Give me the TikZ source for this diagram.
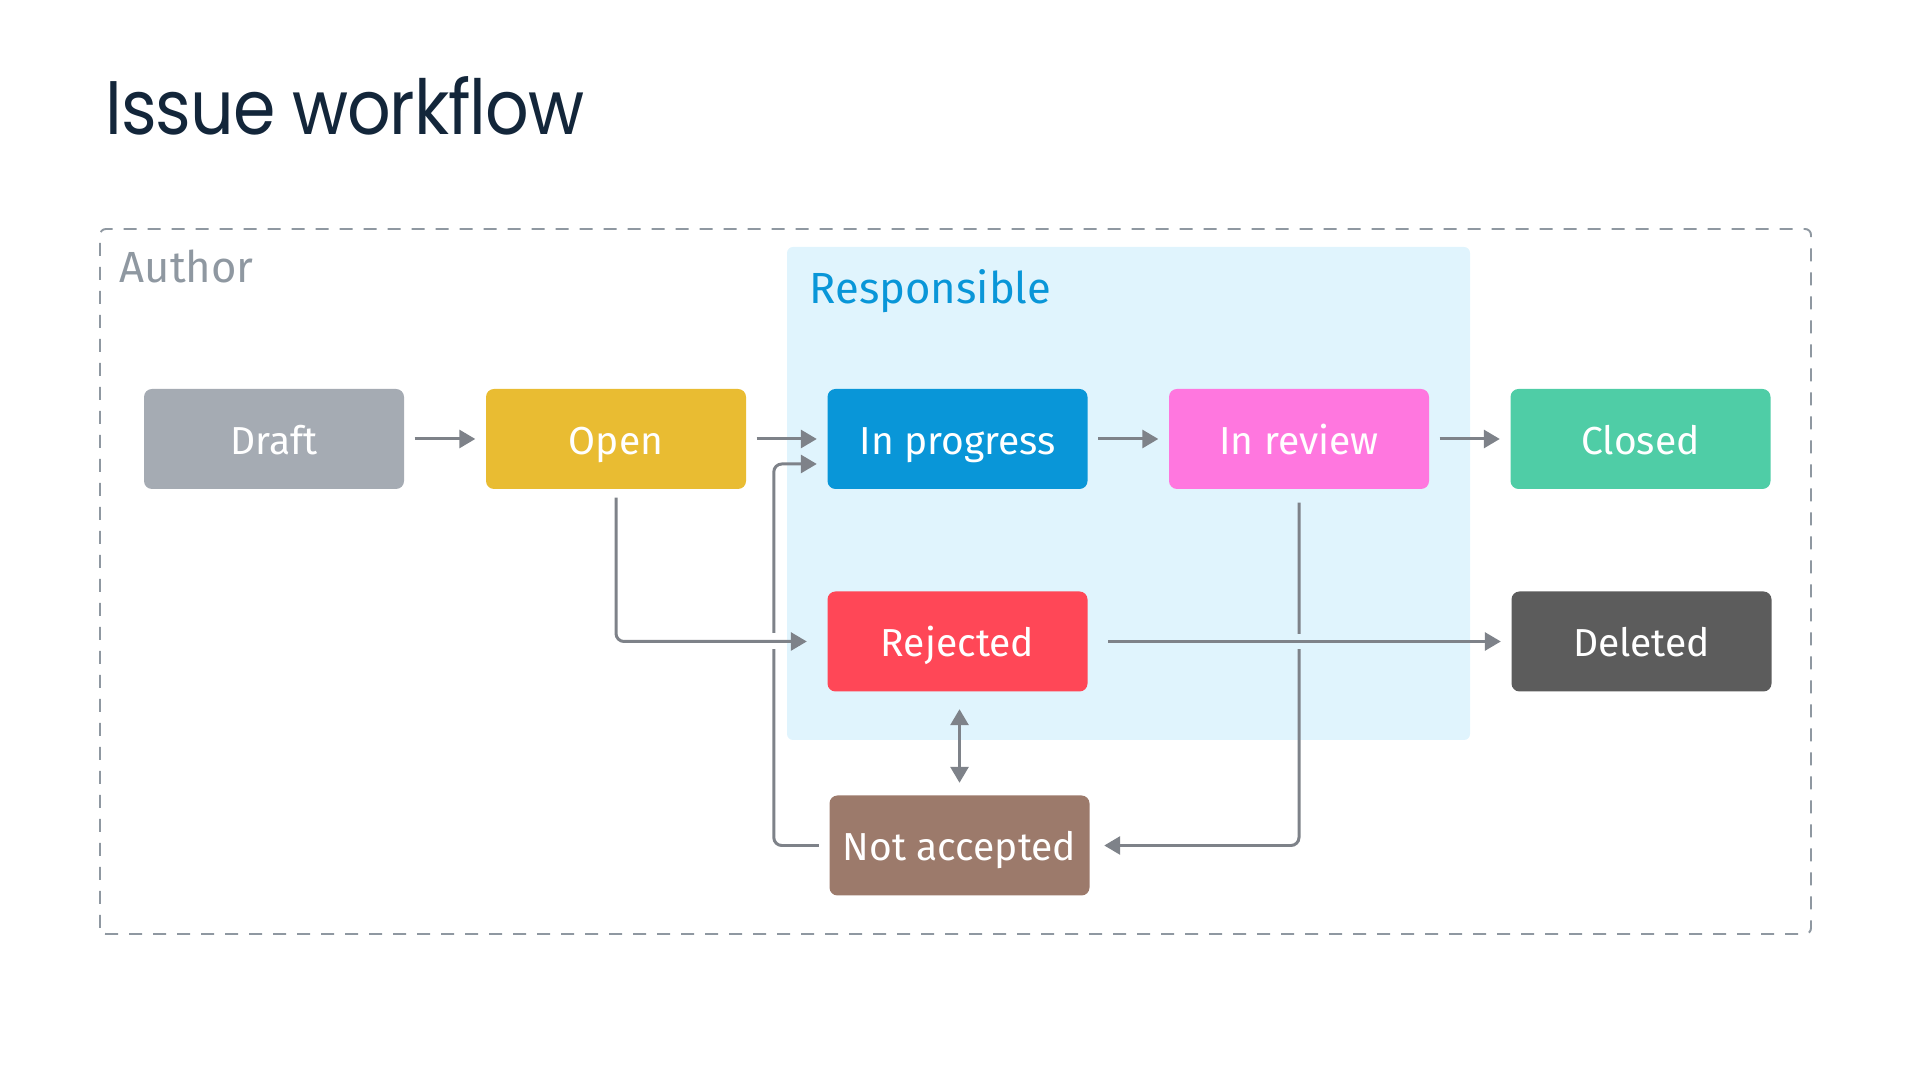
\documentclass[tikz,border=0pt]{standalone}
\usepackage{fontspec}
\setmainfont{Fira Sans}
\newfontfamily\titlefont[FakeStretch=0.9,LetterSpace=-1.5]{Poppins}
\usetikzlibrary{positioning,arrows.meta,calc}
\definecolor{titlenavy}{HTML}{13263A}
\definecolor{framegray}{HTML}{8F98A1}
\definecolor{arrowgray}{HTML}{7E8289}
\definecolor{respbg}{HTML}{E0F4FD}
\definecolor{draftgray}{HTML}{A5ABB3}
\definecolor{openyellow}{HTML}{E9BC32}
\definecolor{progblue}{HTML}{0996D8}
\definecolor{reviewpink}{HTML}{FF77DF}
\definecolor{closedgreen}{HTML}{4FCDA6}
\definecolor{rejred}{HTML}{FF4757}
\definecolor{delgray}{HTML}{5C5C5C}
\definecolor{notbrown}{HTML}{9C7A6B}

\begin{document}
\begin{tikzpicture}[
  every node/.style={font=\fontsize{11.1}{13}\selectfont},
  state/.style={rounded corners=0.8mm,minimum width=2.6cm,minimum height=1cm,inner sep=0pt,
    text height=3.5mm,text depth=0.4mm,text=white},
  lane/.style={anchor=base west,inner sep=0pt,font=\fontsize{12.4}{15}\selectfont},
  flow/.style={draw=arrowgray,line width=0.85pt,rounded corners=0.8mm,shorten <=1mm,shorten >=1mm,
    -{Triangle[length=1.6mm,width=1.8mm]}},
  both/.style={flow,{Triangle[length=1.6mm,width=1.8mm]}-{Triangle[length=1.6mm,width=1.8mm]}},
  >=Stealth ]
  \useasboundingbox (0,0) rectangle (19.2,10.8);

  \node[anchor=base west,inner sep=0pt,text=titlenavy,font=\titlefont\fontsize{21.6}{26}\selectfont] (title) at (1.05,9.45) {Issue workflow};

  \draw[framegray,line width=0.55pt,dash pattern=on 1.3mm off 1.1mm,rounded corners=0.6mm] (1.0,1.46) rectangle (18.11,8.51);
  \fill[respbg,rounded corners=0.6mm] (7.87,3.40) rectangle (14.70,8.33);
  \node[lane,text=framegray] (author) at (1.19,7.97) {Author};
  \node[lane,text=progblue] (resp) at (8.09,7.76) {Responsible};

  \node[state,fill=draftgray] (draft) at (2.74,6.41) {Draft};
  \node[state,fill=openyellow] (open) at (6.16,6.41) {Open};
  \node[state,fill=progblue] (inprog) at (9.575,6.41) {In progress};
  \node[state,fill=reviewpink] (inrev) at (12.99,6.41) {In review};
  \node[state,fill=closedgreen] (closed) at (16.405,6.41) {Closed};
  \node[state,fill=rejred] (rejected) at (9.575,4.385) {Rejected};
  \node[state,fill=delgray] (deleted) at (16.415,4.385) {Deleted};
  \node[state,fill=notbrown] (notacc) at (9.595,2.345) {Not accepted};

  \draw[flow] (draft) -- (open);
  \draw[flow] (open) -- (inprog);
  \draw[flow] (inprog) -- (inrev);
  \draw[flow] (inrev) -- (closed);

  \coordinate (jog) at ($(notacc.west)+(-0.55,0)$);
  \draw[flow] (notacc.west) -- (jog) |- ($(inprog.west)+(0,-0.25)$);
  \draw[flow,shorten <=1.3mm,shorten >=1.4mm] (inrev.south) |- (notacc.east);
  \fill[white] ($(jog |- rejected.west)+(-0.05,-0.08)$) rectangle ($(jog |- rejected.west)+(0.05,0.08)$);
  \fill[respbg] ($(inrev.south |- rejected.east)+(-0.05,-0.075)$) rectangle ($(inrev.south |- rejected.east)+(0.05,0.075)$);

  \draw[flow,shorten <=0.8mm,shorten >=2mm] (open.south) |- (rejected.west);
  \draw[flow,shorten <=2mm] (rejected) -- (deleted);
  \draw[both,shorten <=1.2mm,shorten >=1.7mm] (notacc.north) -- (notacc.north |- rejected.south);
\end{tikzpicture}
\end{document}
